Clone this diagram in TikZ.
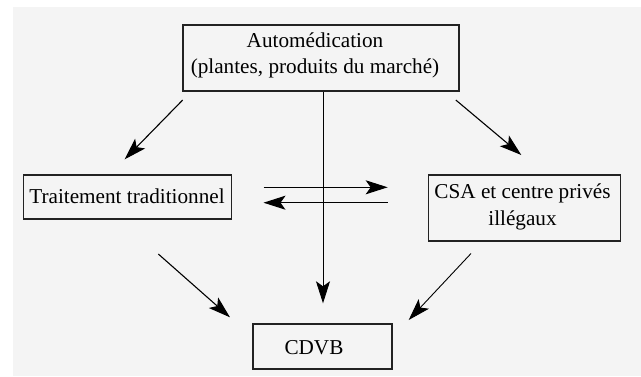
\documentclass[tikz,border=0pt]{standalone}
\usepackage{fontspec}
\setmainfont{Liberation Serif}
\usetikzlibrary{arrows.meta}
\definecolor{bggray}{HTML}{F4F4F4}
\definecolor{boxline}{HTML}{222222}
\begin{document}
\begin{tikzpicture}[x=1pt,y=-1pt,
  box/.style={draw=boxline,line width=1.6pt,inner sep=0pt,anchor=north west},
  txt/.style={inner sep=0pt,align=center,font=\fontsize{21.2}{26.6}\selectfont},
  arr/.style={draw=black,line width=1.1pt,-{Stealth[length=22pt,width=14pt,inset=5pt]}},
  ]
\useasboundingbox (0,0) rectangle (641,376);
\fill[white] (0,0) rectangle (641,376);
\fill[bggray] (13,7) rectangle (641,376);
% boxes
\node[box,minimum width=276pt,minimum height=66pt] (top) at (182.3,24.3) {};
\node[box,minimum width=208pt,minimum height=44pt] (left) at (22.5,174.3) {};
\node[box,minimum width=192pt,minimum height=66pt] (right) at (427.6,174.3) {};
\node[box,minimum width=139pt,minimum height=45pt] (cdvb) at (252.3,323.3) {};
% texts
\node[txt] (toptxt) at (315,55.5) {Automédication\\(plantes, produits du marché)};
\node[txt] (lefttxt) at (127,196) {Traitement traditionnel};
\node[txt] (righttxt) at (522.5,207) {CSA et centre privés\\illégaux};
\node[txt] (cdvbtxt) at (314,348) {CDVB};
% connector end points
\coordinate (a1) at (182.7,100);
\coordinate (a2) at (124.7,159.3);
\coordinate (b1) at (455.8,100);
\coordinate (b2) at (521.3,155);
\coordinate (v2) at (323,303.3);
\coordinate (h1) at (263.5,187.3);
\coordinate (h2) at (387.7,187.3);
\coordinate (k1) at (387.7,202.7);
\coordinate (k2) at (263.5,202.7);
\coordinate (c1) at (158.3,254);
\coordinate (c2) at (230,317.3);
\coordinate (d1) at (471,253.5);
\coordinate (d2) at (408.7,320);
% connectors
\draw[arr] (a1) -- (a2);
\draw[arr] (b1) -- (b2);
\draw[arr,line width=0.8pt] (top.south -| v2) -- (v2);
\draw[arr] (h1) -- (h2);
\draw[arr] (k1) -- (k2);
\draw[arr] (c1) -- (c2);
\draw[arr,line width=0.9pt] (d1) -- (d2);
\end{tikzpicture}
\end{document}
